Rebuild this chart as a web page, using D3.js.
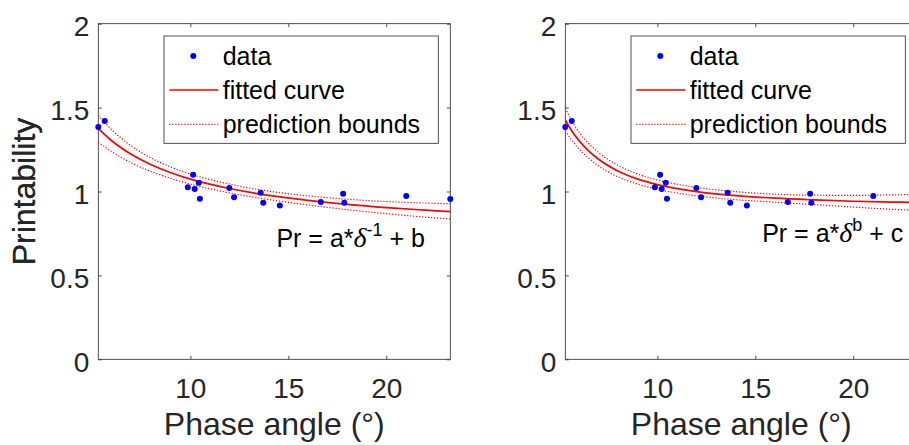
<!DOCTYPE html>
<html>
<head>
<meta charset="utf-8">
<script src="https://cdn.jsdelivr.net/npm/d3@7"></script>
<style>
  body { margin: 0; background: #fff; }
  svg { display: block; font-family: "Liberation Sans", Arial, sans-serif; }
</style>
</head>
<body>
<div id="chart"></div>
<script>
// measured data (same points in both panels)
const phaseAngle = [5.30, 5.63, 9.87, 10.14, 10.22, 10.43, 10.49, 11.99, 12.23, 13.59, 13.72, 14.57, 16.66, 17.80, 17.86, 21.02, 23.27];
const printability = [1.384, 1.420, 1.025, 1.100, 1.015, 1.052, 0.957, 1.021, 0.965, 0.993, 0.933, 0.916, 0.937, 0.987, 0.933, 0.973, 0.955];

// curve samples
const fitAngle = [5.3, 5.6, 6, 6.5, 7, 8, 9, 10, 12, 14, 16, 18, 20, 22, 23.3];
const fitInverse = [1.376, 1.342, 1.301, 1.258, 1.220, 1.159, 1.112, 1.074, 1.018, 0.977, 0.947, 0.923, 0.904, 0.889, 0.880];
const upperInverse = [1.452, 1.415, 1.366, 1.315, 1.270, 1.199, 1.146, 1.104, 1.044, 1.002, 0.974, 0.954, 0.940, 0.931, 0.927];
const lowerInverse = [1.293, 1.269, 1.236, 1.201, 1.170, 1.119, 1.078, 1.044, 0.992, 0.952, 0.920, 0.892, 0.868, 0.847, 0.836];

const fitPower = [1.426, 1.367, 1.303, 1.241, 1.192, 1.121, 1.074, 1.041, 0.999, 0.975, 0.960, 0.950, 0.942, 0.937, 0.935];
const upperPower = [1.496, 1.427, 1.353, 1.286, 1.232, 1.155, 1.104, 1.069, 1.024, 0.999, 0.984, 0.978, 0.977, 0.980, 0.982];
const lowerPower = [1.362, 1.310, 1.253, 1.198, 1.152, 1.087, 1.044, 1.013, 0.974, 0.951, 0.936, 0.922, 0.907, 0.894, 0.888];

const xTicks = [10, 15, 20];
const yTicks = [0, 0.5, 1, 1.5, 2];
const legendLabels = ["data", "fitted curve", "prediction bounds"];

const W = 909, H = 445;
const axisColor = "#262626";

const svg = d3.select("#chart").append("svg")
    .attr("width", W)
    .attr("height", H);

const pw = 352, ph = 335.6;

function drawPanel(left, fit, upper, lower, exponent, constant, textEnd, textBase, id) {
    const g = svg.append("g").attr("transform", `translate(${left},23.7)`);

    const x = d3.scaleLinear().domain([d3.min(phaseAngle), d3.max(phaseAngle)]).range([0, pw]);
    const y = d3.scaleLinear().domain([0, 2]).range([ph, 0]);

    svg.append("clipPath").attr("id", id)
        .append("rect").attr("x", 0).attr("y", 0).attr("width", pw).attr("height", ph);

    // axes with inward ticks
    const xb = g.append("g").attr("transform", `translate(0,${ph})`)
        .call(d3.axisBottom(x).tickValues(xTicks).tickSizeInner(-3.5).tickSizeOuter(0).tickPadding(19));
    const yl = g.append("g")
        .call(d3.axisLeft(y).tickValues(yTicks).tickFormat(d3.format("")).tickSizeInner(-3.5).tickSizeOuter(0).tickPadding(9));
    const xt = g.append("g")
        .call(d3.axisTop(x).tickValues(xTicks).tickSizeInner(-3.5).tickSizeOuter(0).tickFormat(""));
    const yr = g.append("g").attr("transform", `translate(${pw},0)`)
        .call(d3.axisRight(y).tickValues(yTicks).tickSizeInner(-3.5).tickSizeOuter(0).tickFormat(""));

    [xb, yl, xt, yr].forEach(a => {
        a.attr("font-family", null).attr("font-size", null);
        a.select(".domain").remove();
        a.selectAll("line").attr("stroke", axisColor).attr("stroke-width", 0.8);
        a.selectAll("text").attr("fill", axisColor).style("font-size", "28px");
    });
    yl.selectAll("text").attr("dy", "0.43em");
    xb.selectAll("text").attr("dy", "0.71em");

    g.append("rect")
        .attr("width", pw).attr("height", ph)
        .attr("fill", "none").attr("stroke", axisColor).attr("stroke-width", 0.8);

    // curves
    const line = d3.line()
        .x((d, i) => x(fitAngle[i]))
        .y(d => y(d))
        .curve(d3.curveMonotoneX);

    const plot = g.append("g").attr("clip-path", `url(#${id})`);
    [upper, lower].forEach(b => {
        plot.append("path").attr("d", line(b))
            .attr("fill", "none").attr("stroke", "#ff0000").attr("stroke-width", 1.2)
            .attr("stroke-dasharray", "1.2,1.8");
    });
    plot.append("path").attr("d", line(fit))
        .attr("fill", "none").attr("stroke", "#ff0000").attr("stroke-width", 1.7);

    // data points
    g.selectAll(".dot")
        .data(phaseAngle)
        .join("circle")
        .attr("class", "dot")
        .attr("cx", d => x(d))
        .attr("cy", (d, i) => y(printability[i]))
        .attr("r", 3)
        .attr("fill", "#0000ff");

    // axis labels
    g.append("text")
        .attr("x", pw / 2).attr("y", ph + 76)
        .attr("text-anchor", "middle")
        .attr("fill", axisColor)
        .style("font-size", "32px")
        .text("Phase angle (°)");

    g.append("text")
        .attr("transform", `translate(${35 - left},${ph / 2}) rotate(-90)`)
        .attr("text-anchor", "middle")
        .attr("fill", axisColor)
        .style("font-size", "32px")
        .text("Printability");

    // legend
    const lg = g.append("g").attr("transform", "translate(65.7,12.3)");
    lg.append("rect").attr("width", 274.3).attr("height", 107.3)
        .attr("fill", "#fff").attr("stroke", axisColor).attr("stroke-width", 0.8);
    lg.append("circle").attr("cx", 29.3).attr("cy", 20).attr("r", 3).attr("fill", "#0000ff");
    lg.append("line").attr("x1", 5.3).attr("x2", 54.3).attr("y1", 54).attr("y2", 54)
        .attr("stroke", "#ff0000").attr("stroke-width", 1.7);
    lg.append("line").attr("x1", 5.3).attr("x2", 54.3).attr("y1", 88.3).attr("y2", 88.3)
        .attr("stroke", "#ff0000").attr("stroke-width", 1.2).attr("stroke-dasharray", "1.2,1.8");
    lg.selectAll(".lt")
        .data(legendLabels)
        .join("text")
        .attr("class", "lt")
        .attr("x", 58.7)
        .attr("y", (d, i) => 29 + i * 34.2)
        .attr("fill", "#000")
        .style("font-size", "25px")
        .text(d => d);

    // formula
    const t = g.append("text")
        .attr("x", textEnd - left).attr("y", textBase - 23.7)
        .attr("text-anchor", "end")
        .attr("fill", "#000")
        .style("font-size", "25px");
    t.append("tspan").text("Pr = a*");
    t.append("tspan").attr("font-family", "'Liberation Serif', serif").attr("font-style", "italic")
        .style("font-size", "28px").text("δ");
    t.append("tspan").attr("dy", -11).style("font-size", "18px").text(exponent);
    t.append("tspan").attr("dy", 11).text(" + " + constant);
}

drawPanel(98.3, fitInverse, upperInverse, lowerInverse, "-1", "b", 425, 246.7, "clipL");
drawPanel(565.3, fitPower, upperPower, lowerPower, "b", "c", 903.3, 241.7, "clipR");
</script>
</body>
</html>
